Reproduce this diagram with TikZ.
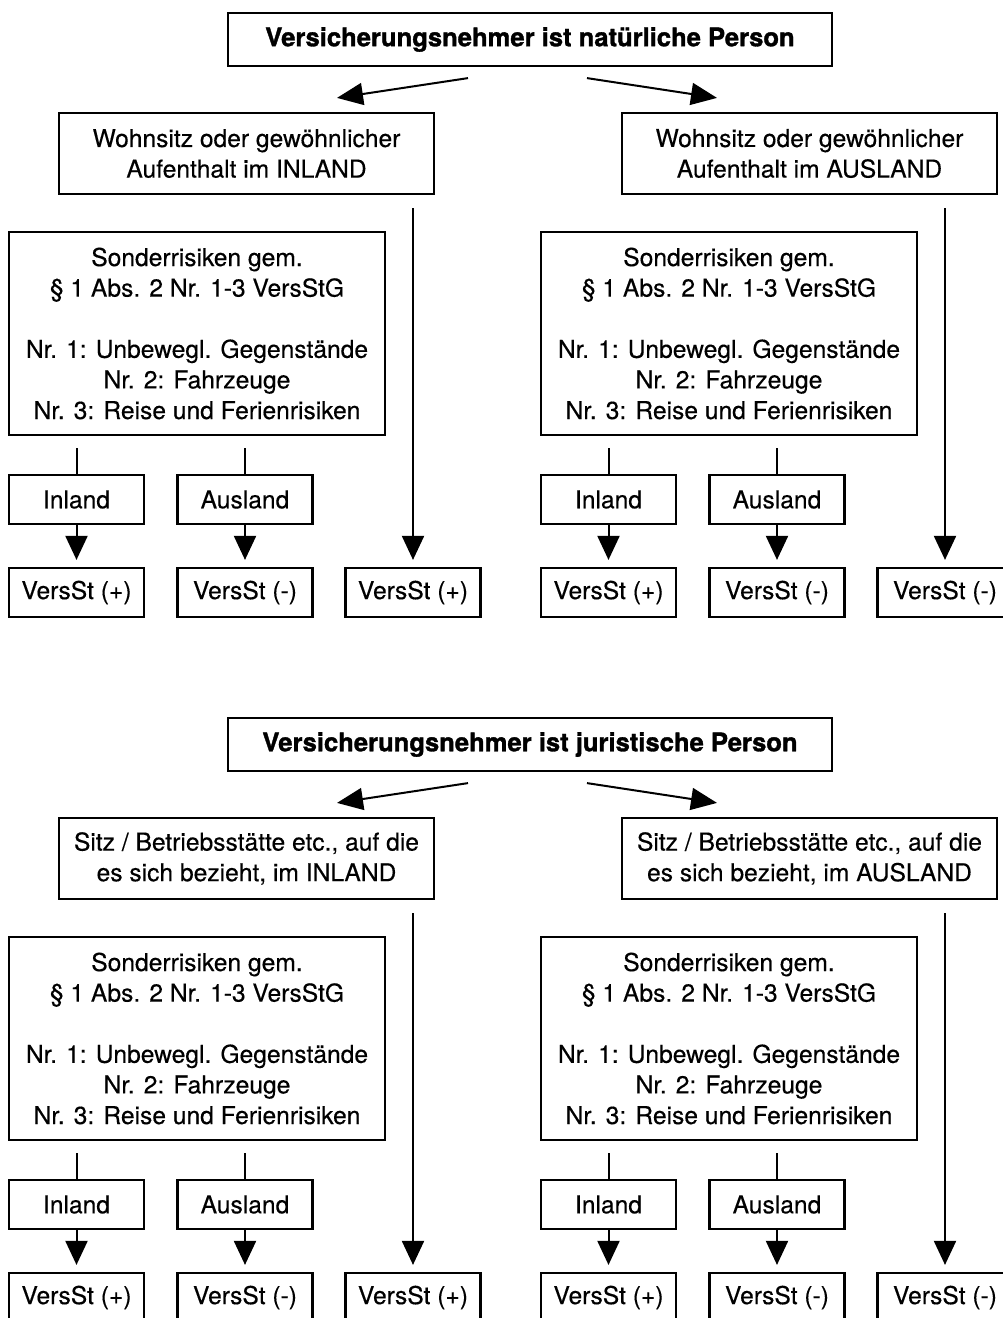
\documentclass[tikz,border=0pt]{standalone}
\usepackage{fontspec}
\setmainfont{TeX Gyre Heros}[UprightFeatures={FakeBold=0.35}, BoldFeatures={FakeBold=1.3}]
\usetikzlibrary{arrows.meta}
\newcommand\bodyfont{\fontsize{24.6}{30.6}\selectfont}
\newcommand\titlefont{\fontsize{25.6}{30}\selectfont\bfseries}
\tikzset{
  mybox/.style={draw, line width=2.2pt, inner sep=0pt, align=center, font=\bodyfont},
  smallbox/.style={mybox, minimum width=135pt, minimum height=49pt},
  ln/.style={line width=2pt},
  arr/.style={line width=2pt, -{Triangle[length=24pt,width=22pt]}},
  darr/.style={line width=2pt, -{Triangle[length=26pt,width=22pt]}}
}
\newcommand\branch[4]{% prefix, x offset, third label, parent
  \begin{scope}[xshift=#2pt]
    \node[mybox, minimum width=376pt, minimum height=203pt] (#1s) at (197,333.5)
      {Sonderrisiken gem.\\§ 1 Abs. 2 Nr. 1-3 VersStG\\[30.6pt]Nr. 1: Unbewegl. Gegenstände\\Nr. 2: Fahrzeuge\\Nr. 3: Reise und Ferienrisiken};
    \node[smallbox] (#1i) at (76.5,499.5) {Inland};
    \node[smallbox] (#1a) at (245,499.5) {Ausland};
    \node[smallbox] (#1va) at (76.5,592.5) {VersSt (+)};
    \node[smallbox] (#1vb) at (245,592.5) {VersSt (-)};
    \node[smallbox] (#1vc) at (413,592.5) {#3};
  \end{scope}
  \draw[ln] ([yshift=-12pt]#1s.south -| #1i.north) -- (#1i.north);
  \draw[ln] ([yshift=-12pt]#1s.south -| #1a.north) -- (#1a.north);
  \draw[arr] (#1i.south) -- ([yshift=7pt]#1va.north);
  \draw[arr] (#1a.south) -- ([yshift=7pt]#1vb.north);
  \draw[arr] ([yshift=-13pt]#4.south -| #1vc.north) -- ([yshift=7pt]#1vc.north);
}
\newcommand\panel[5]{% prefix, y offset, title, inland text, ausland text
  \begin{scope}[yshift=-#2pt]
    \node[mybox, minimum width=604pt, minimum height=53pt, font=\titlefont] (#1t) at (530,39.5) {#3};
    \node[mybox, minimum width=375pt, minimum height=81pt] (#1in) at (246.5,153.5) {#4};
    \node[mybox, minimum width=375pt, minimum height=81pt] (#1aus) at (809.5,153.5) {#5};
    \draw[darr] ([xshift=-62pt,yshift=-11pt]#1t.south) -- ([xshift=90.5pt,yshift=14pt]#1in.north);
    \draw[darr] ([xshift=57pt,yshift=-11pt]#1t.south) -- ([xshift=-92.5pt,yshift=14pt]#1aus.north);
    \branch{#1L}{0}{VersSt (+)}{#1in}
    \branch{#1R}{532}{VersSt (-)}{#1aus}
  \end{scope}
}
\begin{document}
\begin{tikzpicture}[x=1pt,y=-1pt]
  \useasboundingbox[fill=white] (0,0) rectangle (1003,1318);
  \panel{n}{0}{Versicherungsnehmer ist natürliche Person}{Wohnsitz oder gewöhnlicher\\Aufenthalt im INLAND}{Wohnsitz oder gewöhnlicher\\Aufenthalt im AUSLAND}
  \panel{j}{705}{Versicherungsnehmer ist juristische Person}{Sitz / Betriebsstätte etc., auf die\\es sich bezieht, im INLAND}{Sitz / Betriebsstätte etc., auf die\\es sich bezieht, im AUSLAND}
\end{tikzpicture}
\end{document}
